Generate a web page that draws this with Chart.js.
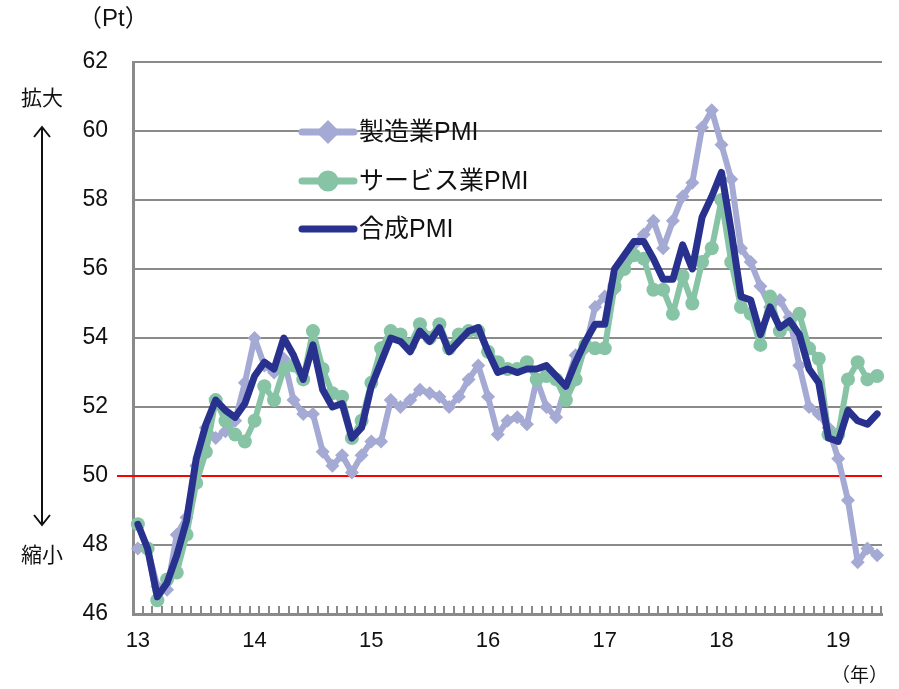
<!DOCTYPE html>
<html>
<head>
<meta charset="utf-8">
<script src="https://cdn.jsdelivr.net/npm/chart.js@4/dist/chart.umd.min.js"></script>
<style>
  html, body { margin: 0; padding: 0; background: #ffffff; }
  #wrap { position: relative; width: 899px; height: 689px; }
  canvas { display: block; }
</style>
</head>
<body>
<div id="wrap"><canvas id="pmi" width="899" height="689"></canvas></div>
<script>
// Euro area PMI, monthly, Jan 2013 - May 2019
const yearTicks = ['13', '14', '15', '16', '17', '18', '19'];

const manufacturingPMI = [
  47.9, 47.9, 46.8, 46.7, 48.3, 48.8, 50.3, 51.4, 51.1, 51.3, 51.6, 52.7,
  54.0, 53.2, 53.0, 53.4, 52.2, 51.8, 51.8, 50.7, 50.3, 50.6, 50.1, 50.6,
  51.0, 51.0, 52.2, 52.0, 52.2, 52.5, 52.4, 52.3, 52.0, 52.3, 52.8, 53.2,
  52.3, 51.2, 51.6, 51.7, 51.5, 52.8, 52.0, 51.7, 52.6, 53.5, 53.7, 54.9,
  55.2, 55.4, 56.2, 56.7, 57.0, 57.4, 56.6, 57.4, 58.1, 58.5, 60.1, 60.6,
  59.6, 58.6, 56.6, 56.2, 55.5, 54.9, 55.1, 54.6, 53.2, 52.0, 51.8, 51.4,
  50.5, 49.3, 47.5, 47.9, 47.7
];

const servicesPMI = [
  48.6, 47.9, 46.4, 47.0, 47.2, 48.3, 49.8, 50.7, 52.2, 51.6, 51.2, 51.0,
  51.6, 52.6, 52.2, 53.1, 53.2, 52.8, 54.2, 53.1, 52.4, 52.3, 51.1, 51.6,
  52.7, 53.7, 54.2, 54.1, 53.8, 54.4, 54.0, 54.4, 53.7, 54.1, 54.2, 54.2,
  53.6, 53.3, 53.1, 53.1, 53.3, 52.8, 52.9, 52.8, 52.2, 52.8, 53.8, 53.7,
  53.7, 55.5, 56.0, 56.4, 56.3, 55.4, 55.4, 54.7, 55.8, 55.0, 56.2, 56.6,
  58.0, 56.2, 54.9, 54.7, 53.8, 55.2, 54.2, 54.4, 54.7, 53.7, 53.4, 51.2,
  51.2, 52.8, 53.3, 52.8, 52.9
];

const compositePMI = [
  48.6, 47.9, 46.5, 46.9, 47.7, 48.7, 50.5, 51.5, 52.2, 51.9, 51.7, 52.1,
  52.9, 53.3, 53.1, 54.0, 53.5, 52.8, 53.8, 52.5, 52.0, 52.1, 51.1, 51.4,
  52.6, 53.3, 54.0, 53.9, 53.6, 54.2, 53.9, 54.3, 53.6, 53.9, 54.2, 54.3,
  53.6, 53.0, 53.1, 53.0, 53.1, 53.1, 53.2, 52.9, 52.6, 53.3, 53.9, 54.4,
  54.4, 56.0, 56.4, 56.8, 56.8, 56.3, 55.7, 55.7, 56.7, 56.0, 57.5, 58.1,
  58.8, 57.1, 55.2, 55.1, 54.1, 54.9, 54.3, 54.5, 54.1, 53.1, 52.7, 51.1,
  51.0, 51.9, 51.6, 51.5, 51.8
];

const seriesNames = ['製造業PMI', 'サービス業PMI', '合成PMI'];

// one category per month
const categories = [];
for (let i = 0; i < compositePMI.length; i++) {
  const y = 2013 + Math.floor(i / 12);
  const m = (i % 12) + 1;
  categories.push(y + '/' + (m < 10 ? '0' + m : m));
}

const FONT = '"Liberation Sans", Arial, "Noto Sans CJK JP", sans-serif';
const AXIS_GRAY = '#8a8a8a';

const COLOR_MFG = '#a4aad3';
const COLOR_SRV = '#87c4a6';
const COLOR_CMP = '#29318f';

// small upward ticks between months along the bottom axis
const monthTicks = {
  id: 'monthTicks',
  beforeDatasetsDraw(chart) {
    const x = chart.scales.x;
    const area = chart.chartArea;
    const ctx = chart.ctx;
    ctx.save();
    ctx.strokeStyle = AXIS_GRAY;
    ctx.lineWidth = 2;
    ctx.beginPath();
    const n = chart.data.labels.length;
    for (let i = 1; i <= n; i++) {
      let px;
      if (i < n) px = (x.getPixelForValue(i - 1) + x.getPixelForValue(i)) / 2;
      else px = x.getPixelForValue(n - 1) + (x.getPixelForValue(n - 1) - x.getPixelForValue(n - 2)) / 2 - 1;
      px = Math.round(px);
      ctx.moveTo(px, area.bottom);
      ctx.lineTo(px, area.bottom - 8);
    }
    ctx.stroke();
    ctx.restore();
  }
};

// the 50 boom/bust line
const thresholdLine = {
  id: 'thresholdLine',
  beforeDatasetsDraw(chart) {
    const y = Math.round(chart.scales.y.getPixelForValue(50));
    const ctx = chart.ctx;
    ctx.save();
    ctx.strokeStyle = '#ff0000';
    ctx.lineWidth = 2;
    ctx.beginPath();
    ctx.moveTo(117, y);
    ctx.lineTo(chart.chartArea.right, y);
    ctx.stroke();
    ctx.restore();
  }
};

// legend inside the plot, unit labels and the expand/contract arrow
const decorations = {
  id: 'decorations',
  afterDraw(chart) {
    const ctx = chart.ctx;
    ctx.save();

    // legend
    const rows = [132, 181, 229];
    const sets = [0, 1, 2].map(k => chart.data.datasets.find(d => d.key === k));
    sets.forEach((ds, r) => {
      const yy = rows[r];
      ctx.strokeStyle = ds.borderColor;
      ctx.lineWidth = 7;
      ctx.lineCap = 'round';
      ctx.beginPath();
      ctx.moveTo(302, yy);
      ctx.lineTo(354, yy);
      ctx.stroke();
      if (ds.pointRadius > 0) {
        Chart.helpers.drawPoint(ctx, {
          pointStyle: ds.pointStyle,
          radius: ds.pointRadius,
          borderWidth: 1
        }, 328, yy);
        ctx.fillStyle = ds.pointBackgroundColor;
        ctx.fill();
      }
      ctx.fillStyle = '#111111';
      ctx.font = '25px ' + FONT;
      ctx.textAlign = 'left';
      ctx.textBaseline = 'middle';
      ctx.fillText(ds.label, 359, yy + 1);
    });

    ctx.fillStyle = '#111111';
    ctx.textBaseline = 'middle';
    ctx.font = '24px ' + FONT;
    ctx.textAlign = 'left';
    ctx.fillText('（Pt）', 78, 19);
    ctx.font = '19px ' + FONT;
    ctx.textAlign = 'right';
    ctx.fillText('（年）', 888, 677);

    ctx.font = '21px ' + FONT;
    ctx.textAlign = 'center';
    ctx.fillText('拡大', 42, 99);
    ctx.fillText('縮小', 42, 556);

    // double-headed arrow
    ctx.strokeStyle = '#111111';
    ctx.lineWidth = 2;
    ctx.lineCap = 'butt';
    ctx.beginPath();
    ctx.moveTo(42, 127);
    ctx.lineTo(42, 525);
    ctx.moveTo(34, 137);
    ctx.lineTo(42, 127);
    ctx.lineTo(50, 137);
    ctx.moveTo(34, 515);
    ctx.lineTo(42, 525);
    ctx.lineTo(50, 515);
    ctx.stroke();

    ctx.restore();
  }
};

new Chart(document.getElementById('pmi'), {
  type: 'line',
  data: {
    labels: categories,
    datasets: [
      {
        key: 0,
        label: seriesNames[0],
        data: manufacturingPMI,
        borderColor: COLOR_MFG,
        backgroundColor: COLOR_MFG,
        pointBackgroundColor: COLOR_MFG,
        pointBorderColor: COLOR_MFG,
        borderWidth: 6,
        pointStyle: 'rectRot',
        pointRadius: 7,
        pointBorderWidth: 0,
        borderJoinStyle: 'round',
        borderCapStyle: 'round',
        tension: 0,
        order: 2
      },
      {
        key: 1,
        label: seriesNames[1],
        data: servicesPMI,
        borderColor: COLOR_SRV,
        backgroundColor: COLOR_SRV,
        pointBackgroundColor: COLOR_SRV,
        pointBorderColor: COLOR_SRV,
        borderWidth: 6,
        pointStyle: 'circle',
        pointRadius: 7,
        pointBorderWidth: 0,
        borderJoinStyle: 'round',
        borderCapStyle: 'round',
        tension: 0,
        order: 1
      },
      {
        key: 2,
        label: seriesNames[2],
        data: compositePMI,
        borderColor: COLOR_CMP,
        backgroundColor: COLOR_CMP,
        pointBackgroundColor: COLOR_CMP,
        borderWidth: 7,
        pointRadius: 0,
        borderJoinStyle: 'round',
        borderCapStyle: 'round',
        tension: 0,
        order: 0
      }
    ]
  },
  options: {
    responsive: false,
    animation: false,
    devicePixelRatio: 1,
    layout: { padding: { left: 0, right: 17, top: 62, bottom: 0 } },
    plugins: {
      legend: { display: false },
      tooltip: { enabled: false }
    },
    elements: { line: { fill: false } },
    scales: {
      x: {
        type: 'category',
        offset: true,
        grid: { display: false, drawTicks: false },
        border: { display: true, color: AXIS_GRAY, width: 3 },
        ticks: {
          autoSkip: false,
          maxRotation: 0,
          minRotation: 0,
          padding: 14,
          color: '#111111',
          font: { family: FONT, size: 22 },
          callback: (v, i) => (i % 12 === 0 ? yearTicks[i / 12] : '')
        },
        afterFit: s => { s.height = 75; }
      },
      y: {
        min: 46,
        max: 62,
        grid: { color: AXIS_GRAY, lineWidth: 2, drawTicks: false },
        border: { display: true, color: AXIS_GRAY, width: 3 },
        ticks: {
          stepSize: 2,
          padding: 25,
          color: '#111111',
          font: { family: FONT, size: 23 }
        },
        afterFit: s => { s.width = 133; }
      }
    }
  },
  plugins: [monthTicks, thresholdLine, decorations]
});
</script>
</body>
</html>
